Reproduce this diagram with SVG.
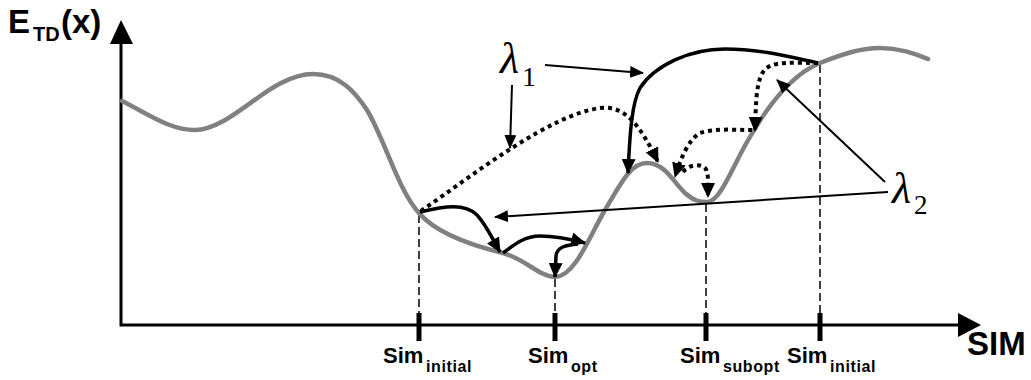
<svg xmlns="http://www.w3.org/2000/svg" width="1031" height="380" viewBox="0 0 1031 380">
<style>
.axis{stroke:#000;stroke-width:3;fill:none}
.curve{stroke:#808080;stroke-width:4.5;fill:none;stroke-linecap:round}
.guide{stroke:#000;stroke-width:1.5;fill:none;stroke-dasharray:8 4}
.solid{stroke:#000;stroke-width:3.5;fill:none;marker-end:url(#ahB)}
.dot{stroke:#000;stroke-width:4;fill:none;stroke-dasharray:4 4;marker-end:url(#ahB)}
.thin{stroke:#000;stroke-width:2;fill:none;marker-end:url(#ahT)}
.lbl{font-family:"Liberation Sans",Arial,sans-serif;font-weight:bold;fill:#000}
.lam{font-family:"Liberation Serif","Times New Roman",serif;fill:#000}
</style>
<defs>
<marker id="ahB" markerUnits="userSpaceOnUse" viewBox="0 0 15 14" markerWidth="15" markerHeight="14" refX="14" refY="7" orient="auto"><path d="M0,0 L15,7 L0,14 z" fill="#000"/></marker>
<marker id="ahT" markerUnits="userSpaceOnUse" viewBox="0 0 14 12" markerWidth="14" markerHeight="12" refX="13" refY="6" orient="auto"><path d="M0,0 L14,6 L0,12 z" fill="#000"/></marker>
</defs>
<rect width="1031" height="380" fill="#fff"/>
<g id="axes">
<path class="axis" d="M121,44 L121,325 L960,325"/>
<polygon points="121,20 110,44 133,44" fill="#000"/>
<polygon points="981,325 958,313 958,337" fill="#000"/>
<rect x="416.5" y="313" width="5" height="28" fill="#000"/>
<rect x="552.5" y="313" width="5" height="28" fill="#000"/>
<rect x="703.5" y="313" width="5" height="28" fill="#000"/>
<rect x="817.5" y="313" width="5" height="28" fill="#000"/>
<path class="guide" d="M419,215 L419,313 M555,279 L555,313 M706,204 L706,313 M820,65 L820,313"/>
</g>
<g id="energy-curve">
<path class="curve" d="M122,101 C150,115 170,130 195,130 C232,130 270,74 313,74 C340,74 355,92 367,110 C385,140 398,190 419,213 C435,232 470,245 503,253 C525,259 540,277 555,277 C575,277 590,235 605,210 C620,185 630,163 647,163 C665,163 674,183 685,193 C694,201 700,202 707,202 C720,202 732,168 747,142 C765,110 790,75 820,63 C845,53 862,48 880,48 C900,48 915,54 928,59"/>
</g>
<g id="y-label"><text class="lbl" font-size="33"><tspan x="8" y="33">E</tspan><tspan x="33" y="41" font-size="20">TD</tspan><tspan x="61" y="33">(x)</tspan></text></g>
<g id="x-label"><text class="lbl" x="967" y="355" font-size="33">SIM</text></g>
<g id="sim-initial-1"><text class="lbl" font-size="22"><tspan x="383" y="363">Sim</tspan><tspan x="426" y="372" font-size="16" letter-spacing="0.6">initial</tspan></text></g>
<g id="sim-opt"><text class="lbl" font-size="22"><tspan x="528" y="363">Sim</tspan><tspan x="571" y="372" font-size="16" letter-spacing="0.6">opt</tspan></text></g>
<g id="sim-subopt"><text class="lbl" font-size="22"><tspan x="680" y="363">Sim</tspan><tspan x="723" y="372" font-size="16" letter-spacing="0.6">subopt</tspan></text></g>
<g id="sim-initial-2"><text class="lbl" font-size="22"><tspan x="787" y="363">Sim</tspan><tspan x="830" y="372" font-size="16" letter-spacing="0.6">initial</tspan></text></g>
<g id="lambda1"><text class="lam"><tspan x="500" y="73" font-size="44" font-style="italic">λ</tspan><tspan x="522" y="86" font-size="28">1</tspan></text></g>
<g id="lambda2"><text class="lam"><tspan x="892" y="203" font-size="44" font-style="italic">λ</tspan><tspan x="914" y="214" font-size="27">2</tspan></text></g>
<g id="connectors">
<path class="solid" d="M420,212 C445,206 465,203 477,215 C487,226 493,240 500,252"/>
<path class="solid" d="M503,253 C515,244 525,236 540,236 C555,236 570,239 585,243"/>
<path class="solid" d="M578,244 C566,245 557,247 556,256 L555,277"/>
<path class="solid" d="M818,63 C790,57 760,49 725,49 C690,49 655,65 640,88 C632,103 630,130 628,173"/>
<path class="dot" d="M421,211 C480,170 550,115 600,108 C625,105 640,125 658,162"/>
<path class="dot" d="M818,63 C795,63 770,60 763,72 C755,85 756,110 755,131"/>
<path class="dot" d="M752,130 C735,130 715,128 700,133 C688,140 680,160 675,177"/>
<path class="dot" d="M683,172 C688,165 700,163 705,168 C709,172 708,185 708,197"/>
<path class="thin" d="M545,65 L643,73"/>
<path class="thin" d="M512,85 L510,148"/>
<path class="thin" d="M885,182 L777,80"/>
<path class="thin" d="M888,192 L495,217"/>
</g>
</svg>
